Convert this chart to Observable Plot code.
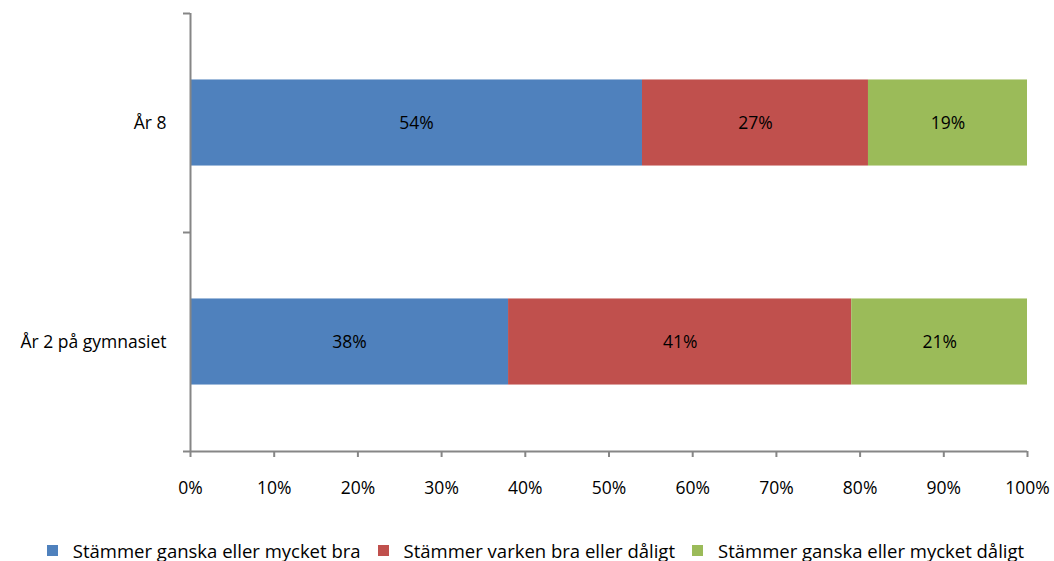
<!DOCTYPE html>
<html>
<head>
<meta charset="utf-8">
<script src="https://cdn.jsdelivr.net/npm/d3@7"></script>
<script src="https://cdn.jsdelivr.net/npm/@observablehq/plot@0.6"></script>
<style>
  html, body { margin: 0; padding: 0; background: #fff; }
  body { width: 1054px; height: 561px; overflow: hidden; font-family: "Open Sans", sans-serif; }
  #chart svg { display: block; }
  #legend { display: flex; justify-content: center; align-items: center; font-size: 18.5px; color: #000; height: 40px; margin-top: 19px; padding-left: 17px; }
  .item { display: flex; align-items: center; margin: 0 8.5px; }
  .sw { width: 11px; height: 11px; margin-right: 15px; }
</style>
</head>
<body>
<div id="chart"></div>
<div id="legend"></div>
<script>
const categories = ["År 8", "År 2 på gymnasiet"];
const series = ["Stämmer ganska eller mycket bra", "Stämmer varken bra eller dåligt", "Stämmer ganska eller mycket dåligt"];
const colors = ["#4F81BD", "#C0504D", "#9BBB59"];
const valuesBra = [54, 38];
const valuesVarken = [27, 41];
const valuesDaligt = [19, 21];
const xTicks = [0, 10, 20, 30, 40, 50, 60, 70, 80, 90, 100];

const seriesValues = [valuesBra, valuesVarken, valuesDaligt];
const n = categories.length;
// category i centered at (n - i - 0.5) on a linear y scale
const barFrac = 0.393;
const rows = [];
categories.forEach((c, i) => {
  let acc = 0;
  series.forEach((s, j) => {
    const v = seriesValues[j][i];
    rows.push({cat: c, series: s, value: v, x1: acc, x2: acc + v,
      yc: n - i - 0.5, y1: n - i - 0.5 - barFrac / 2, y2: n - i - 0.5 + barFrac / 2});
    acc += v;
  });
});

const gray = "#868686";
const chart = Plot.plot({
  width: 1054,
  height: 511,
  marginLeft: 190,
  marginRight: 27,
  marginTop: 13,
  marginBottom: 60,
  style: {fontFamily: "Open Sans, sans-serif", fontSize: "17px", color: "#000", background: "#fff"},
  x: {domain: [0, 100]},
  y: {domain: [0, n]},
  color: {domain: series, range: colors},
  marks: [
    Plot.rectX(rows, {x1: "x1", x2: "x2", y1: "y1", y2: "y2", fill: "series"}),
    Plot.text(rows, {x: d => (d.x1 + d.x2) / 2, y: "yc", text: d => d.value + "%", fill: "#000", fontSize: 17.5}),
    Plot.ruleX([0], {stroke: gray, strokeWidth: 2}),
    Plot.ruleY([0], {stroke: gray, strokeWidth: 2}),
    Plot.axisX({ticks: xTicks, tickFormat: d => d + "%", tickSize: 6, tickPadding: 24, stroke: gray, strokeWidth: 2, label: null, fill: "#000", fontSize: 17.5}),
    Plot.axisY({ticks: d3.range(n + 1), tickFormat: () => "", tickSize: 7, stroke: gray, strokeWidth: 2, label: null}),
    Plot.axisY({ticks: d3.range(n).map(i => n - i - 0.5), tickFormat: (d) => categories[Math.round(n - d - 0.5)], tickSize: 0, tickPadding: 24, label: null, fill: "#000", fontSize: 17.5})
  ]
});
document.getElementById("chart").appendChild(chart);

const legend = document.getElementById("legend");
series.forEach((s, j) => {
  const it = document.createElement("div");
  it.className = "item";
  const sw = document.createElement("span");
  sw.className = "sw";
  sw.style.background = colors[j];
  const t = document.createElement("span");
  t.textContent = s;
  it.appendChild(sw);
  it.appendChild(t);
  legend.appendChild(it);
});
</script>
</body>
</html>
